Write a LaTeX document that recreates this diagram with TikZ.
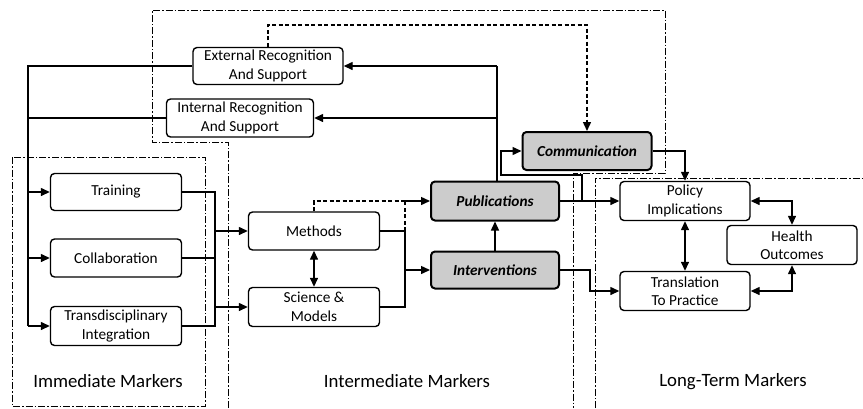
\documentclass[tikz,border=0pt]{standalone}
\usepackage{fontspec}
\setmainfont{Carlito}
\usetikzlibrary{arrows.meta,calc}

\tikzset{
  box/.style={draw, line width=1.4pt, rounded corners=4pt, align=center,
    inner sep=0pt, font=\fontsize{15.3}{18.5}\selectfont},
  shaded/.style={box, line width=2pt, fill=gray!40,
    font=\fontsize{15.3}{18.5}\selectfont\bfseries\itshape},
  conn/.style={line width=1.4pt, -{Triangle[length=9pt,width=8pt]}},
  dconn/.style={line width=1.4pt, {Triangle[length=9pt,width=8pt]}-{Triangle[length=9pt,width=8pt]}},
  wire/.style={line width=1.4pt},
  dashwire/.style={wire, dash pattern=on 4pt off 2.5pt},
  dashconn/.style={conn, dash pattern=on 4pt off 2.5pt},
  frame/.style={line width=1pt, dash pattern=on 7pt off 2pt on 1.5pt off 2pt},
  stage/.style={font=\fontsize{18.8}{22}\selectfont}
}

\begin{document}
\begin{tikzpicture}[x=1pt, y=-1pt]
\useasboundingbox (0,0) rectangle (863,408);

% marker-stage frames
\draw[frame] (12,157) rectangle (205,406);
\draw[frame] (228,408) -- (228,142) -- (152,142) -- (152,10) -- (665,10)
  -- (665,173) -- (573,173) -- (573,408);
\draw[frame] (595,408) -- (595,178) -- (863,178);

% boxes
\node[box, minimum width=150pt, minimum height=37pt] (ext) at (268,66) {External Recognition\\And Support};
\node[box, minimum width=147pt, minimum height=38pt] (int) at (240,118) {Internal Recognition\\And Support};
\node[box, minimum width=131pt, minimum height=37pt] (train) at (116,192) {Training};
\node[box, minimum width=131pt, minimum height=38pt] (collab) at (116,258) {Collaboration};
\node[box, minimum width=131pt, minimum height=39pt] (trans) at (116,326) {Transdisciplinary\\Integration};
\node[box, minimum width=131pt, minimum height=38pt] (meth) at (314,231) {Methods};
\node[box, minimum width=131pt, minimum height=39pt] (sci) at (314,307) {Science \&\\Models};
\node[shaded, minimum width=128pt, minimum height=39pt] (pub) at (495,201) {Publications};
\node[shaded, minimum width=128pt, minimum height=37pt] (interv) at (495,270) {Interventions};
\node[shaded, minimum width=129pt, minimum height=38pt] (comm) at (587,151) {Communication};
\node[box, minimum width=130pt, minimum height=39pt] (pol) at (685,201) {Policy\\Implications};
\node[box, minimum width=130pt, minimum height=39pt] (prac) at (685,291) {Translation\\To Practice};
\node[box, minimum width=130pt, minimum height=39pt] (health) at (792,245) {Health\\Outcomes};

% stage labels
\node[stage] (lab1) at (108,381) {Immediate Markers};
\node[stage] (lab2) at (407,381) {Intermediate Markers};
\node[stage] (lab3) at (733,382) {Long-Term Markers};

% bus coordinates
\coordinate (lbus) at (28,326);
\coordinate (ibus) at (215,326);
\coordinate (mbus) at (405,307);
\coordinate (topd) at (587,25);
\coordinate (pubup) at (497,182);
\coordinate (c1) at (582,201);
\coordinate (c2) at (501,175);
\coordinate (tk) at (590,270);

% recognition feeding the immediate markers
\draw[wire] (ext.west) -| (lbus);
\draw[wire] (int.west) -- (int.west -| lbus);
\draw[conn] (train.west -| lbus) -- (train.west);
\draw[conn] (collab.west -| lbus) -- (collab.west);
\draw[conn] (lbus) -- (trans.west);

% immediate to intermediate
\draw[wire] (train.east) -| (ibus) -- (trans.east);
\draw[wire] (collab.east) -- (collab.east -| ibus);
\draw[conn] (meth.west -| ibus) -- (meth.west);
\draw[conn] (sci.west -| ibus) -- (sci.west);
\draw[dconn] (meth.south) -- (sci.north);

% methods and models to products
\draw[wire] (meth.east) -| (mbus) -- (sci.east);
\draw[conn] (interv.west -| mbus) -- (interv.west);
\draw[dashwire] (meth.north) |- (pub.west -| mbus);
\draw[dashwire] (meth.east -| mbus) -- (pub.west -| mbus);
\draw[conn] (pub.west -| mbus) -- (pub.west);
\draw[conn] (interv.north) -- (pub.south);

% publications feeding recognition
\draw[wire] (pubup) -- (pubup |- ext.east);
\draw[conn] (pubup |- ext.east) -- (ext.east);
\draw[conn] (pubup |- int.east) -- (int.east);
\draw[dashconn] (ext.north) |- (topd) -- (comm.north);

% toward long-term markers
\draw[conn] (pub.east) -- (pol.west);
\draw[conn] (c1) |- (c2) |- (comm.west);
\draw[conn] (interv.east) -- (tk) |- (prac.west);
\draw[conn] (comm.east) -| (pol.north);
\draw[dconn] (pol.south) -- (prac.north);
\draw[dconn] (pol.east) -| (health.north);
\draw[dconn] (prac.east) -| (health.south);
\end{tikzpicture}
\end{document}
